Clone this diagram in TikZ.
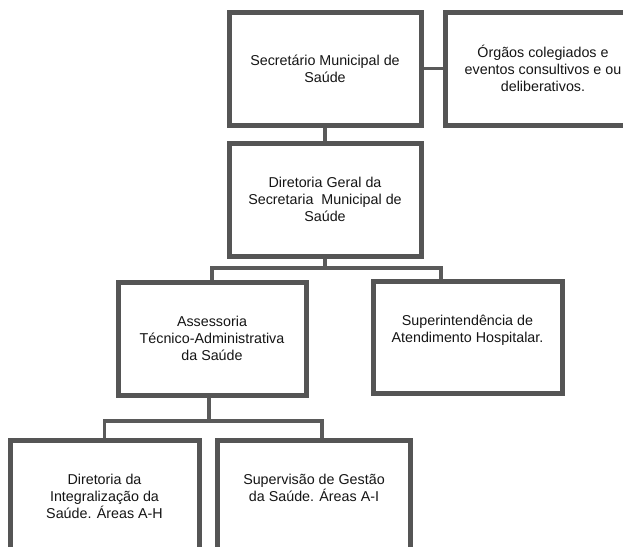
\documentclass[tikz,border=0pt]{standalone}
\usepackage{fontspec}
\setmainfont{Liberation Sans}
\definecolor{boxgray}{HTML}{555555}
\definecolor{linegray}{HTML}{5A5A5A}
\definecolor{txt}{HTML}{151515}
\begin{document}
\begin{tikzpicture}[x=1pt,y=-1pt,
  orgbox/.style={draw=boxgray, line width=5pt, fill=white, rectangle,
    align=center, text=txt, inner sep=0pt,
    font=\fontsize{14.3}{17}\selectfont},
  conn/.style={draw=linegray, line width=3.4pt}]
\clip (0,0) rectangle (623,546);
\fill[white] (0,0) rectangle (623,546);

\node[orgbox, minimum width=192pt, minimum height=113pt] (b1) at (325,68.5)
  {Secretário Municipal de\\Saúde};
\node[orgbox, minimum width=196pt, minimum height=113pt] (b2) at (543,68.5)
  {Órgãos colegiados e\\eventos consultivos e ou\\deliberativos.};
\node[orgbox, minimum width=192pt, minimum height=113pt] (b3) at (325,199.5)
  {Diretoria Geral da\\Secretaria\ \ Municipal de\\Saúde};
\node[orgbox, minimum width=188pt, minimum height=113pt] (b4) at (212,338.5)
  {Assessoria\\Técnico-Administrativa\\da Saúde};
\node[orgbox, minimum width=189pt, minimum height=112pt] (b5) at (467.5,337)
  {Superintendência de\\Atendimento Hospitalar.\\\mbox{}};
\node[orgbox, minimum width=189pt, minimum height=113pt] (b6) at (104.5,496.5)
  {Diretoria da\\Integralização da\\Saúde. Áreas A-H};
\node[orgbox, minimum width=193pt, minimum height=113pt] (b7) at (314,496.5)
  {Supervisão de Gestão\\da Saúde. Áreas A-I\\\mbox{}};

\coordinate (j1) at (441,268);
\coordinate (j2) at (209,421);
\coordinate (j3) at (322,421);

\draw[conn] (b1.east) -- (b2.west);
\draw[conn] (b1.south) -- (b3.north);
\draw[conn] (b3.south) -- (b3.south |- j1);
\draw[conn] (b4.north) |- (j1) -- (j1 |- b5.north);
\draw[conn] (b4.south -| j2) -- (j2);
\draw[conn] (b6.north) |- (j3) -- (j3 |- b7.north);
\end{tikzpicture}
\end{document}
